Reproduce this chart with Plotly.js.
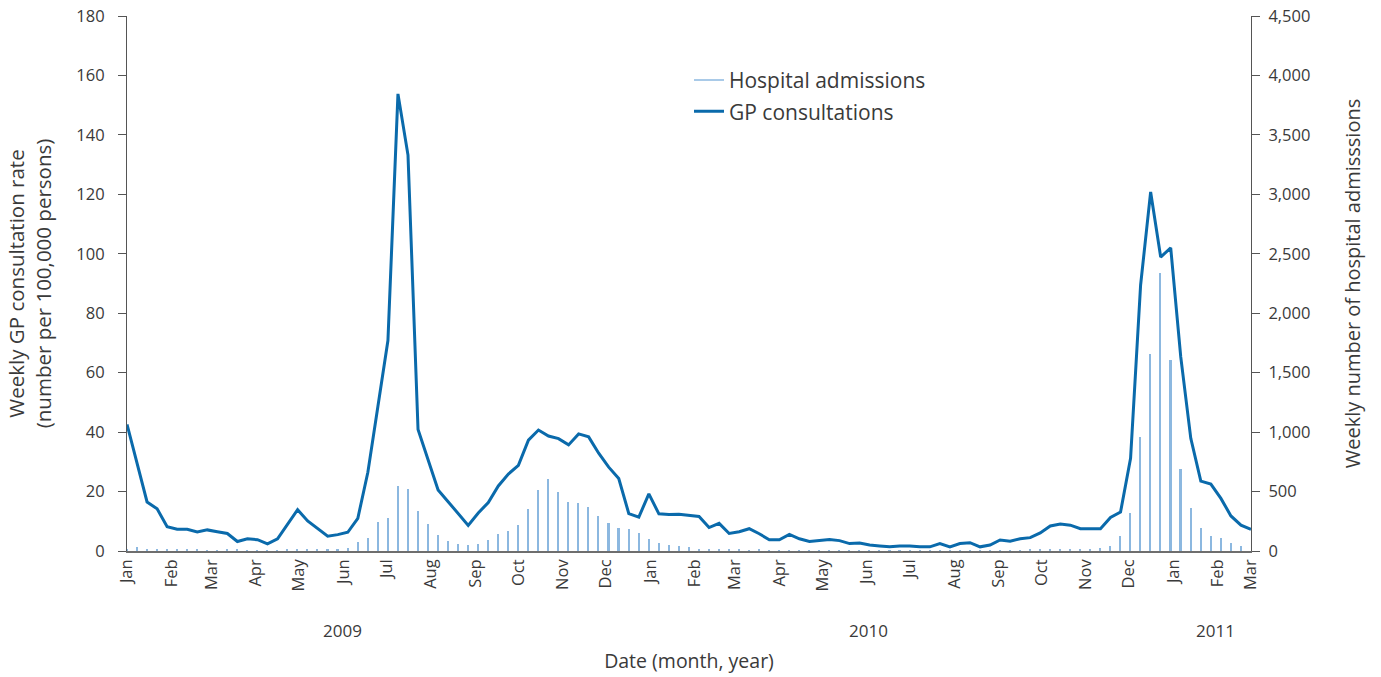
<!DOCTYPE html>
<html>
<head>
<meta charset="utf-8">
<script src="https://cdn.plot.ly/plotly-3.0.1.min.js"></script>
<style>
  html, body { margin: 0; padding: 0; background: #ffffff; }
  #chart { width: 1381px; height: 677px; }
</style>
</head>
<body>
<div id="chart"></div>
<script>
// Weekly series, first week starting 2009-01-01
const firstWeek = '2009-01-01';

// Weekly GP consultation rate (per 100,000 persons) - left axis
const gpConsultations = [
  42.6, 29.5, 16.5, 14.2, 8.2, 7.3, 7.3, 6.4, 7.1, 6.5,
  5.9, 3.2, 4.1, 3.8, 2.4, 4.1, 9.1, 13.9, 10.1, 7.4,
  5.0, 5.5, 6.3, 11.0, 26.5, 48.6, 70.8, 153.8, 133.2, 40.9,
  30.3, 20.5, 16.6, 12.7, 8.6, 12.8, 16.3, 21.9, 25.9, 28.8,
  37.3, 40.7, 38.7, 37.8, 35.7, 39.4, 38.4, 32.9, 28.2, 24.4,
  12.6, 11.4, 19.2, 12.5, 12.3, 12.4, 11.9, 11.6, 7.9, 9.3,
  5.9, 6.5, 7.5, 5.8, 3.8, 3.8, 5.6, 4.1, 3.2, 3.5,
  3.9, 3.5, 2.5, 2.7, 2.0, 1.7, 1.4, 1.7, 1.7, 1.4,
  1.4, 2.5, 1.4, 2.5, 2.8, 1.4, 2.0, 3.7, 3.3, 4.1,
  4.5, 6.1, 8.4, 9.1, 8.7, 7.5, 7.5, 7.5, 11.3, 13.1,
  31.2, 89.5, 120.8, 98.9, 102.0, 65.3, 37.9, 23.5, 22.5, 17.7,
  11.8, 8.7, 7.3
];

// Weekly number of hospital admissions - right axis
const hospitalAdmissions = [
  20, 31, 17, 17, 10, 10, 18, 10, 8, 6,
  10, 10, 8, 8, 8, 6, 10, 15, 12, 10,
  10, 12, 23, 73, 110, 241, 278, 544, 521, 336,
  227, 135, 84, 61, 48, 61, 90, 143, 168, 219,
  351, 510, 603, 494, 415, 406, 370, 294, 235, 193,
  183, 149, 98, 65, 50, 42, 32, 17, 12, 12,
  12, 12, 6, 13, 5, 5, 6, 5, 5, 5,
  6, 5, 5, 5, 5, 4, 5, 5, 4, 5,
  5, 5, 5, 5, 5, 5, 5, 6, 6, 6,
  14, 12, 14, 14, 12, 14, 20, 25, 42, 126,
  322, 961, 1657, 2335, 1606, 687, 359, 191, 126, 107,
  70, 42, 0
];

// Month tick labels
const monthTickDates = [
  '2009-01-01','2009-02-01','2009-03-01','2009-04-01','2009-05-01','2009-06-01',
  '2009-07-01','2009-08-01','2009-09-01','2009-10-01','2009-11-01','2009-12-01',
  '2010-01-01','2010-02-01','2010-03-01','2010-04-01','2010-05-01','2010-06-01',
  '2010-07-01','2010-08-01','2010-09-01','2010-10-01','2010-11-01','2010-12-01',
  '2011-01-01','2011-02-01','2011-02-24'
];
const monthTickLabels = [
  'Jan','Feb','Mar','Apr','May','Jun','Jul','Aug','Sep','Oct','Nov','Dec',
  'Jan','Feb','Mar','Apr','May','Jun','Jul','Aug','Sep','Oct','Nov','Dec',
  'Jan','Feb','Mar'
];
const yearLabels = ['2009', '2010', '2011'];
const yearLabelDates = ['2009-05-31', '2010-06-02', '2011-01-30'];

// Build weekly dates
function addDays(iso, n) {
  const d = new Date(iso + 'T00:00:00Z');
  d.setUTCDate(d.getUTCDate() + n);
  return d.toISOString().slice(0, 10);
}
const weeks = gpConsultations.map((_, i) => addDays(firstWeek, 7 * i));

const FONT = 'Open Sans, Noto Sans, sans-serif';
const TEXT = '#3a3a3a';
const GP_COLOR = '#0a6aab';
const HOSP_COLOR = '#8cb8e0';
const DAY_MS = 86400000;

const traces = [
  {
    type: 'bar',
    x: weeks,
    y: hospitalAdmissions,
    yaxis: 'y2',
    width: 1.1 * DAY_MS,
    marker: { color: HOSP_COLOR, line: { width: 0 } },
    name: 'Hospital admissions',
    showlegend: false,
    hoverinfo: 'x+y'
  },
  {
    // legend entry for the admissions series (drawn as a thin line like the reference)
    type: 'scatter',
    mode: 'lines',
    x: [null],
    y: [null],
    yaxis: 'y2',
    name: 'Hospital admissions',
    line: { color: HOSP_COLOR, width: 1.5 },
    legendgroup: 'a',
    hoverinfo: 'skip'
  },
  {
    type: 'scatter',
    mode: 'lines',
    x: weeks,
    y: gpConsultations,
    name: 'GP consultations',
    line: { color: GP_COLOR, width: 3 },
    legendgroup: 'b'
  }
];

const annotations = yearLabels.map((t, i) => ({
  text: t,
  x: yearLabelDates[i],
  xref: 'x',
  y: -0.148,
  yref: 'paper',
  yanchor: 'middle',
  showarrow: false,
  font: { family: FONT, size: 17, color: TEXT }
}));

const layout = {
  width: 1381,
  height: 677,
  paper_bgcolor: '#ffffff',
  plot_bgcolor: '#ffffff',
  margin: { l: 127, r: 130, t: 16, b: 126 },
  font: { family: FONT, color: TEXT, size: 17 },
  showlegend: true,
  legend: {
    x: 0.5,
    y: 0.918,
    xanchor: 'left',
    yanchor: 'top',
    bgcolor: 'rgba(0,0,0,0)',
    font: { family: FONT, size: 21, color: TEXT },
    traceorder: 'grouped',
    tracegroupgap: 1
  },
  bargap: 0,
  xaxis: {
    type: 'date',
    range: ['2009-01-01', '2011-02-24'],
    tickmode: 'array',
    tickvals: monthTickDates,
    ticktext: monthTickLabels,
    tickangle: -90,
    ticks: '',
    showgrid: false,
    zeroline: false,
    showline: true,
    linecolor: '#6e6e6e',
    linewidth: 1.5,
    tickfont: { family: FONT, size: 16.5, color: TEXT },
    title: {
      text: 'Date (month, year)',
      font: { family: FONT, size: 19.5, color: TEXT },
      standoff: 64
    },
    automargin: false
  },
  yaxis: {
    range: [0, 180],
    dtick: 20,
    tick0: 0,
    ticks: 'outside',
    ticklen: 8,
    tickcolor: '#555555',
    tickwidth: 1.2,
    showgrid: false,
    zeroline: false,
    showline: true,
    linecolor: '#555555',
    linewidth: 1.2,
    ticklabelstandoff: 10,
    tickfont: { family: FONT, size: 16.5, color: TEXT },
    title: {
      text: 'Weekly GP consultation rate<br>(number per 100,000 persons)',
      font: { family: FONT, size: 20.5, color: TEXT },
      standoff: 19
    },
    automargin: false
  },
  yaxis2: {
    overlaying: 'y',
    side: 'right',
    range: [0, 4500],
    dtick: 500,
    tick0: 0,
    tickformat: ',d',
    ticks: 'outside',
    ticklen: 8,
    tickcolor: '#555555',
    tickwidth: 1.2,
    showgrid: false,
    zeroline: false,
    showline: true,
    linecolor: '#555555',
    linewidth: 1.2,
    ticklabelstandoff: 5,
    tickfont: { family: FONT, size: 16.5, color: TEXT },
    title: {
      text: 'Weekly number of hospital admisssions',
      font: { family: FONT, size: 20, color: TEXT },
      standoff: 36
    },
    automargin: false
  },
  annotations: annotations
};

Plotly.newPlot('chart', traces, layout, { displayModeBar: false, responsive: false });
</script>
</body>
</html>
